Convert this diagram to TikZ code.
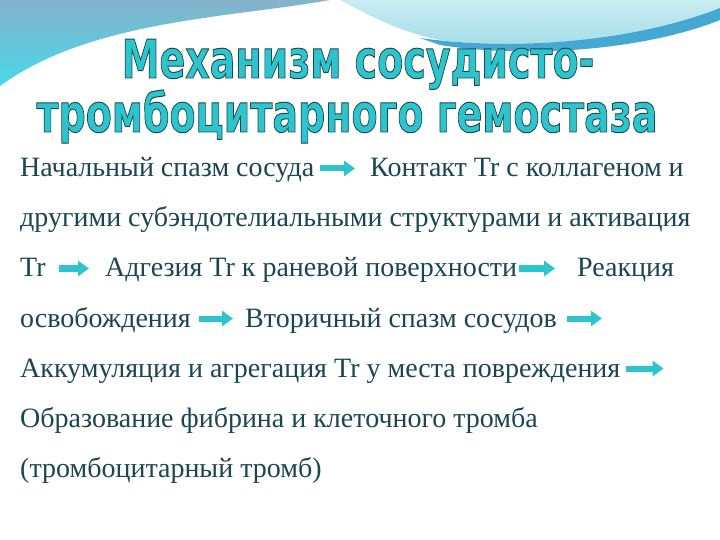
\documentclass[tikz,border=0pt]{standalone}
\usepackage{fontspec}
\setmainfont{Liberation Serif}
\newfontfamily\headfont{DejaVu Sans}
\usetikzlibrary{arrows.meta}
\definecolor{ink}{HTML}{1A4654}
\definecolor{aqua}{HTML}{2EC4CE}
\definecolor{skyA}{HTML}{84B3CB}
\definecolor{skyB}{HTML}{48D8EA}
\definecolor{foamA}{HTML}{C8ECF2}
\definecolor{foamB}{HTML}{A2DCE8}
\definecolor{stripe}{HTML}{45A8D2}
\newcommand{\outl}[1]{\special{pdf:literal direct 2 Tr 0.7 w 0.10 0.29 0.31 RG}#1\special{pdf:literal direct 0 Tr}}

\begin{document}
\begin{tikzpicture}[x=1bp, y=-1bp,
  txt/.style={anchor=base west, inner sep=0pt, text height=17bp, text depth=0pt,
    text=ink, font=\fontsize{28bp}{34bp}\selectfont},
  head/.style={anchor=base, inner sep=0pt, text=aqua,
    font=\headfont\bfseries\fontsize{38bp}{40bp}\selectfont},
  flow/.style={aqua, line width=6bp, -{Triangle[width=15bp,length=11bp]}}]
  % page and top decoration
  \fill[white] (0,0) rectangle (720,540);
  \shade[top color=skyA, bottom color=skyB] (0,0) -- (330,0)
    .. controls (230,18) and (90,20) .. (0,86) -- cycle;
  \shade[top color=foamA, bottom color=foamB] (340,0) -- (720,0) -- (720,12)
    .. controls (640,40) and (520,50) .. (440,40) .. controls (400,32) and (370,16) .. (340,0);
  \fill[stripe] (420,38) .. controls (520,52) and (640,40) .. (720,8) -- (720,20)
    .. controls (640,52) and (520,58) .. (440,45) -- cycle;

  % title
  \node[head] (h1) at (358,78) {\scalebox{1}[1.4]{\outl{Механизм сосудисто-}}};
  \node[head] (h2) at (347,132) {\scalebox{1}[1.4]{\outl{тромбоцитарного гемостаза}}};

  % text
  \node[txt] (s1) at (20,177) {Начальный спазм сосуда};
  \node[txt] (s2) at (370,177) {Контакт Tr с коллагеном и};
  \node[txt] (s3) at (20,227) {другими субэндотелиальными структурами и активация};
  \node[txt] (s4) at (20,277) {Tr};
  \node[txt] (s5) at (105,277) {Адгезия Tr к раневой поверхности};
  \node[txt] (s6) at (577,277) {Реакция};
  \node[txt] (s7) at (20,327) {освобождения};
  \node[txt] (s8) at (245,327) {Вторичный спазм сосудов};
  \node[txt] (s9) at (20,377) {Аккумуляция и агрегация Tr у места повреждения};
  \node[txt] (s10) at (20,427) {Образование фибрина и клеточного тромба};
  \node[txt] (s11) at (20,477) {(тромбоцитарный тромб)};
  \coordinate (e8) at ([xshift=45bp]s8.east);
  \coordinate (e9) at ([xshift=43bp]s9.east);

  % arrows
  \draw[flow] ([xshift=5bp]s1.east) -- ([xshift=-15bp]s2.west);
  \draw[flow] ([xshift=13bp]s4.east) -- ([xshift=-16bp]s5.west);
  \draw[flow] ([xshift=2bp]s5.east) -- ([xshift=-22bp]s6.west);
  \draw[flow] ([xshift=8bp]s7.east) -- ([xshift=-12bp]s8.west);
  \draw[flow] ([xshift=10bp]s8.east) -- (e8);
  \draw[flow] ([xshift=5bp]s9.east) -- (e9);
\end{tikzpicture}
\end{document}
